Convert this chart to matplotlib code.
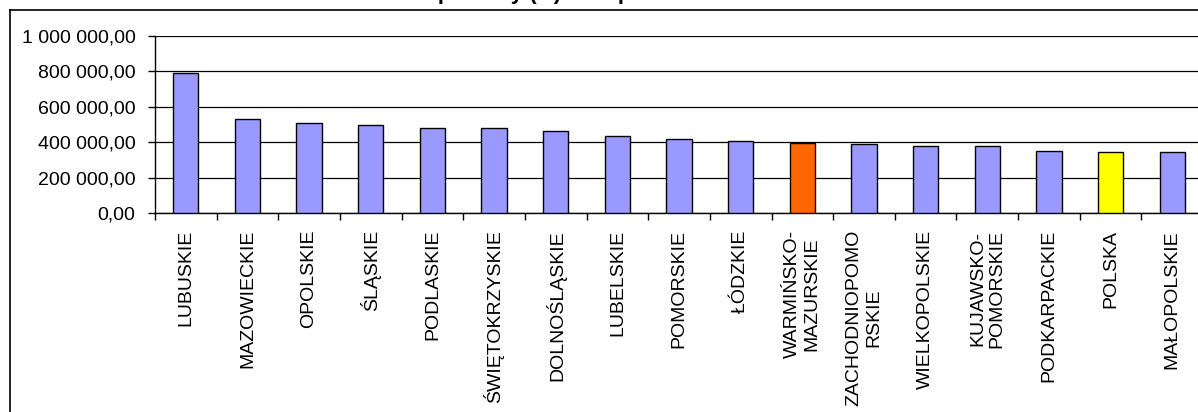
import matplotlib

matplotlib.use("Agg")
import matplotlib.pyplot as plt
from matplotlib.lines import Line2D
from matplotlib.ticker import FixedLocator, FuncFormatter

plt.rcParams["font.family"] = ["Liberation Sans", "DejaVu Sans"]

regions = [
    "LUBUSKIE", "MAZOWIECKIE", "OPOLSKIE", "ŚLĄSKIE", "PODLASKIE",
    "ŚWIĘTOKRZYSKIE", "DOLNOŚLĄSKIE", "LUBELSKIE", "POMORSKIE", "ŁÓDZKIE",
    "WARMIŃSKO-\nMAZURSKIE", "ZACHODNIOPOMO\nRSKIE", "WIELKOPOLSKIE",
    "KUJAWSKO-\nPOMORSKIE", "PODKARPACKIE", "POLSKA", "MAŁOPOLSKIE",
]
values = [
    788000, 530000, 510000, 495000, 478000, 478000, 462000, 433000, 418000,
    406000, 398000, 388000, 378000, 378000, 352000, 343000, 343000,
]
highlight = {"WARMIŃSKO-\nMAZURSKIE": "#FF6600", "POLSKA": "#FFFF00"}
# title is mostly cut off above the image in the reference
title = "Kwota pomocy (zł) na 1 podmiot"


def pl_fmt(v, _pos):
    s = f"{v:,.2f}"
    return s.replace(",", " ").replace(".", ",")


W, H = 1198, 412
fig = plt.figure(figsize=(W / 100, H / 100), dpi=100)
ax = fig.add_axes([155 / W, (H - 213.3) / H, 17 * 61.65 / W, 177.6 / H])

colors = [highlight.get(r, "#9999FF") for r in regions]
x = list(range(len(regions)))
ax.bar(x, values, width=0.41, color=colors, edgecolor="black", linewidth=1.0, zorder=3)

ax.set_xlim(-0.5, len(regions) - 0.5)
ax.set_ylim(0, 1_000_000)
ax.set_yticks([0, 200000, 400000, 600000, 800000, 1000000])
ax.yaxis.set_major_formatter(FuncFormatter(pl_fmt))
ax.grid(axis="y", color="black", linewidth=0.9, zorder=1)

ax.set_xticks(x)
ax.set_xticklabels(regions, rotation=90, va="top", ha="center", multialignment="center")
ax.xaxis.set_minor_locator(FixedLocator([i - 0.5 for i in range(len(regions) + 1)]))
ax.tick_params(axis="x", which="major", length=0, pad=12, labelsize=14)
ax.tick_params(axis="x", which="minor", length=5, width=1, color="black")
ax.tick_params(axis="y", length=5, width=1, pad=9, labelsize=14)

for side in ("top", "right"):
    ax.spines[side].set_visible(False)
for side in ("left", "bottom"):
    ax.spines[side].set_linewidth(1.0)

# outer chart-area border (right and bottom edges fall outside the image)
fig.add_artist(Line2D([10 / W, 10 / W], [(H - 10) / H, -0.1], color="black", lw=1.2))
fig.add_artist(Line2D([10 / W, 1.1], [(H - 10) / H, (H - 10) / H], color="black", lw=1.2))

fig.text(365 / W, (H + 1) / H, title, ha="left", va="baseline", fontsize=16, fontweight="bold")

fig.savefig("out.png", dpi=100)
